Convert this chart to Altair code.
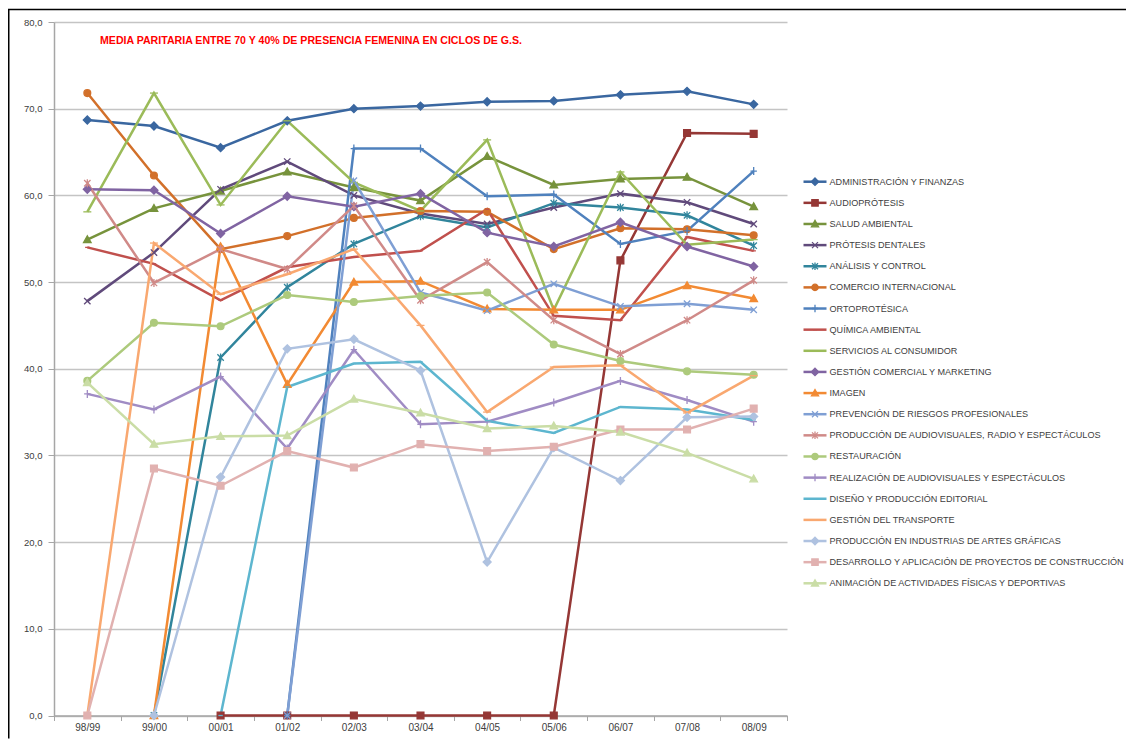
import altair as alt
import pandas as pd

N = None
cats = ['98/99', '99/00', '00/01', '01/02', '02/03', '03/04', '04/05', '05/06', '06/07', '07/08', '08/09']

names = [
    'ADMINISTRACIÓN Y FINANZAS',
    'AUDIOPRÓTESIS',
    'SALUD AMBIENTAL',
    'PRÓTESIS DENTALES',
    'ANÁLISIS Y CONTROL',
    'COMERCIO INTERNACIONAL',
    'ORTOPROTÉSICA',
    'QUÍMICA AMBIENTAL',
    'SERVICIOS AL CONSUMIDOR',
    'GESTIÓN COMERCIAL Y MARKETING',
    'IMAGEN',
    'PREVENCIÓN DE RIESGOS PROFESIONALES',
    'PRODUCCIÓN DE AUDIOVISUALES,  RADIO Y ESPECTÁCULOS',
    'RESTAURACIÓN',
    'REALIZACIÓN DE AUDIOVISUALES Y ESPECTÁCULOS',
    'DISEÑO Y PRODUCCIÓN EDITORIAL',
    'GESTIÓN DEL TRANSPORTE',
    'PRODUCCIÓN EN INDUSTRIAS DE ARTES GRÁFICAS',
    'DESARROLLO Y APLICACIÓN DE PROYECTOS DE CONSTRUCCIÓN',
    'ANIMACIÓN DE ACTIVIDADES FÍSICAS Y DEPORTIVAS',
]

admin = [68.7, 68.0, 65.5, 68.6, 70.0, 70.3, 70.8, 70.9, 71.6, 72.0, 70.5]
audio = [N, N, 0, 0, 0, 0, 0, 0, 52.5, 67.2, 67.1]
salud = [54.9, 58.5, 60.5, 62.7, 60.9, 59.4, 64.5, 61.2, 61.9, 62.1, 58.7]
protesis = [47.8, 53.4, 60.7, 63.9, 60.0, 57.9, 56.7, 58.6, 60.2, 59.2, 56.7]
analisis = [N, 0, 41.3, 49.4, 54.4, 57.6, 56.3, 59.1, 58.6, 57.7, 54.2]
comercio = [71.8, 62.3, 53.8, 55.3, 57.4, 58.2, 58.1, 53.8, 56.2, 56.1, 55.4]
orto = [N, N, N, 0, 65.4, 65.4, 59.9, 60.1, 54.4, 55.9, 62.8]
quimica = [54.0, 52.1, 47.9, 51.7, 52.9, 53.6, 58.4, 46.1, 45.6, 55.2, 53.6]
servicios = [58.1, 71.8, 58.9, 68.6, 61.5, 58.2, 66.4, 46.8, 62.7, 54.3, 54.9]
gestion_com = [60.7, 60.6, 55.6, 59.9, 58.7, 60.2, 55.7, 54.1, 56.9, 54.1, 51.8]
imagen = [N, 0, 54.1, 38.2, 50.0, 50.1, 46.9, 46.8, 46.8, 49.6, 48.1]
prevencion = [N, N, N, 0, 61.7, 48.8, 46.7, 49.8, 47.2, 47.5, 46.8]
prod_audio = [61.4, 49.9, 53.8, 51.5, 58.8, 47.9, 52.3, 45.6, 41.7, 45.6, 50.2]
restauracion = [38.6, 45.3, 44.9, 48.5, 47.7, 48.4, 48.8, 42.8, 40.9, 39.7, 39.3]
realizacion = [37.1, 35.3, 39.1, 30.8, 42.2, 33.6, 33.9, 36.1, 38.6, 36.4, 33.9]
diseno = [N, N, 0, 37.9, 40.6, 40.8, 34.0, 32.6, 35.6, 35.3, 34.1]
transporte = [0, 54.5, 48.6, 50.9, 53.8, 45.0, 35.0, 40.2, 40.4, 34.9, 39.2]
artes = [N, 0, 27.5, 42.3, 43.4, 39.8, 17.7, 30.9, 27.1, 34.4, 34.5]
desarrollo = [0, 28.5, 26.5, 30.5, 28.6, 31.3, 30.5, 31.0, 33.0, 33.0, 35.4]
animacion = [38.4, 31.3, 32.2, 32.3, 36.5, 34.9, 33.1, 33.4, 32.7, 30.3, 27.3]

series_values = [admin, audio, salud, protesis, analisis, comercio, orto, quimica,
                 servicios, gestion_com, imagen, prevencion, prod_audio, restauracion,
                 realizacion, diseno, transporte, artes, desarrollo, animacion]

colors = ['#3A67A0', '#953735', '#77933C', '#604A7B', '#31859C', '#D2702A',
          '#4F81BD', '#C0504D', '#9BBB59', '#8064A2', '#F28A33', '#7F9FD4',
          '#D08A88', '#ADCA7C', '#A08CC4', '#5DB6CF', '#F9A870', '#AFC2E0',
          '#E1B1B0', '#CADDA6']

DIAMOND = 'M0,-1L1,0L0,1L-1,0Z'
SQUARE = 'M-0.85,-0.85L0.85,-0.85L0.85,0.85L-0.85,0.85Z'
TRIANGLE = 'M0,-0.95L0.95,0.75L-0.95,0.75Z'
XMARK = 'M-0.8,-0.8L0.8,0.8M-0.8,0.8L0.8,-0.8'
STAR = 'M-0.8,-0.8L0.8,0.8M-0.8,0.8L0.8,-0.8M0,-1L0,1'
CIRCLE = 'M-0.85,0A0.85,0.85,0,1,0,0.85,0A0.85,0.85,0,1,0,-0.85,0Z'
PLUS = 'M0,-1L0,1M-0.8,0L0.8,0'
DASH = 'M-0.55,0L0.55,0'
LONGDASH = 'M-1,0L1,0'

shapes = [DIAMOND, SQUARE, TRIANGLE, XMARK, STAR, CIRCLE, PLUS, DASH, LONGDASH,
          DIAMOND, TRIANGLE, XMARK, STAR, CIRCLE, PLUS, DASH, LONGDASH,
          DIAMOND, SQUARE, TRIANGLE]

title_text = 'MEDIA PARITARIA ENTRE 70 Y 40% DE PRESENCIA FEMENINA EN CICLOS DE G.S.'

rows = []
for s, vals in zip(names, series_values):
    for i, v in enumerate(vals):
        if v is not None:
            rows.append({'serie': s, 'i': i, 'v': v})
df = pd.DataFrame(rows)
leg_df = pd.DataFrame({'serie': names, 'k': list(range(len(names)))})

W, H = 733, 693.5
PL, PT, PR, PB = 46, 14, 339, 23
FONT = 'Liberation Sans'
TXT = '#404040'
AXC = '#A6A6A6'

color_scale = alt.Scale(domain=names, range=colors)
shape_scale = alt.Scale(domain=names, range=shapes)

arr = '[' + ','.join("'" + c + "'" for c in cats) + ']'
x_label_expr = "datum.value < 10 ? " + arr + "[datum.value + 0.5] : ''"

x_enc = alt.X('i:Q', scale=alt.Scale(domain=[-0.5, 10.5], nice=False, zero=False),
              axis=alt.Axis(values=[k - 0.5 for k in range(12)], labelExpr=x_label_expr,
                            labelOffset=W / 22, labelFlush=False, labelOverlap=False,
                            title=None, grid=False, tickSize=5, tickColor=AXC,
                            domainColor=AXC, domainWidth=1.5, labelColor=TXT,
                            labelFont=FONT, labelFontSize=10, labelPadding=2))
y_enc = alt.Y('v:Q', scale=alt.Scale(domain=[0, 80], nice=False, zero=True),
              axis=alt.Axis(values=list(range(0, 81, 10)),
                            labelExpr="replace(format(datum.value, '.1f'), '.', ',')",
                            title=None, grid=True, gridColor='#C4C4C4', gridWidth=1.5,
                            tickSize=6, tickColor=AXC, domainColor=AXC, domainWidth=1.5,
                            labelColor=TXT, labelFont=FONT, labelFontSize=9.5,
                            labelPadding=6))

color_enc = alt.Color('serie:N', scale=color_scale, legend=None)
fill_enc = alt.Fill('serie:N', scale=color_scale, legend=None)
shape_enc = alt.Shape('serie:N', scale=shape_scale, legend=None)

lines = alt.Chart(df).mark_line(strokeWidth=2.5).encode(
    x=x_enc, y=y_enc, color=color_enc, order='i:Q')
points = alt.Chart(df).mark_point(size=64, strokeWidth=1.3, opacity=1).encode(
    x=x_enc, y=y_enc, color=color_enc, fill=fill_enc, shape=shape_enc)
main = alt.layer(lines, points)

ly = alt.Y('k:Q', scale=alt.Scale(domain=[0, 19], range=[159.7, 561.3]), axis=None)
leg_line = alt.Chart(leg_df).mark_rule(strokeWidth=2.5).encode(
    x=alt.value(749.5), x2=alt.value(772.5), y=ly, color=color_enc)
leg_pt = alt.Chart(leg_df).mark_point(size=56, strokeWidth=1.3, opacity=1).encode(
    x=alt.value(761), y=ly, color=color_enc, fill=fill_enc, shape=shape_enc)
leg_txt = alt.Chart(leg_df).mark_text(align='left', baseline='middle', font=FONT,
                                      fontSize=9.1, color=TXT).encode(
    x=alt.value(775.5), y=ly, text='serie:N')
legend = alt.layer(leg_line, leg_pt, leg_txt)

title_layer = alt.Chart(pd.DataFrame({'t': [title_text]})).mark_text(
    align='left', baseline='middle', font=FONT, fontSize=10.6, fontWeight='bold',
    color='#FF0000').encode(x=alt.value(46), y=alt.value(19), text='t:N')

frame = pd.DataFrame({'a': [0]})
border_left = alt.Chart(frame).mark_rule(color='#000000', strokeWidth=1.5).encode(
    x=alt.value(-PL + 0.75), y=alt.value(-PT + 1.5), y2=alt.value(H + PB))
border_top = alt.Chart(frame).mark_rule(color='#000000', strokeWidth=1.5).encode(
    x=alt.value(-PL), x2=alt.value(W + PR), y=alt.value(-PT + 1.5))

chart = alt.layer(
    main, legend, title_layer, border_left, border_top
).resolve_scale(y='independent').properties(
    width=W, height=H,
    autosize=alt.AutoSizeParams(type='none'),
    padding={'left': PL, 'top': PT, 'right': PR, 'bottom': PB},
    background='#FFFFFF',
).configure_view(strokeWidth=0)

chart.save('out.html', embed_options={'renderer': 'svg', 'actions': False})
